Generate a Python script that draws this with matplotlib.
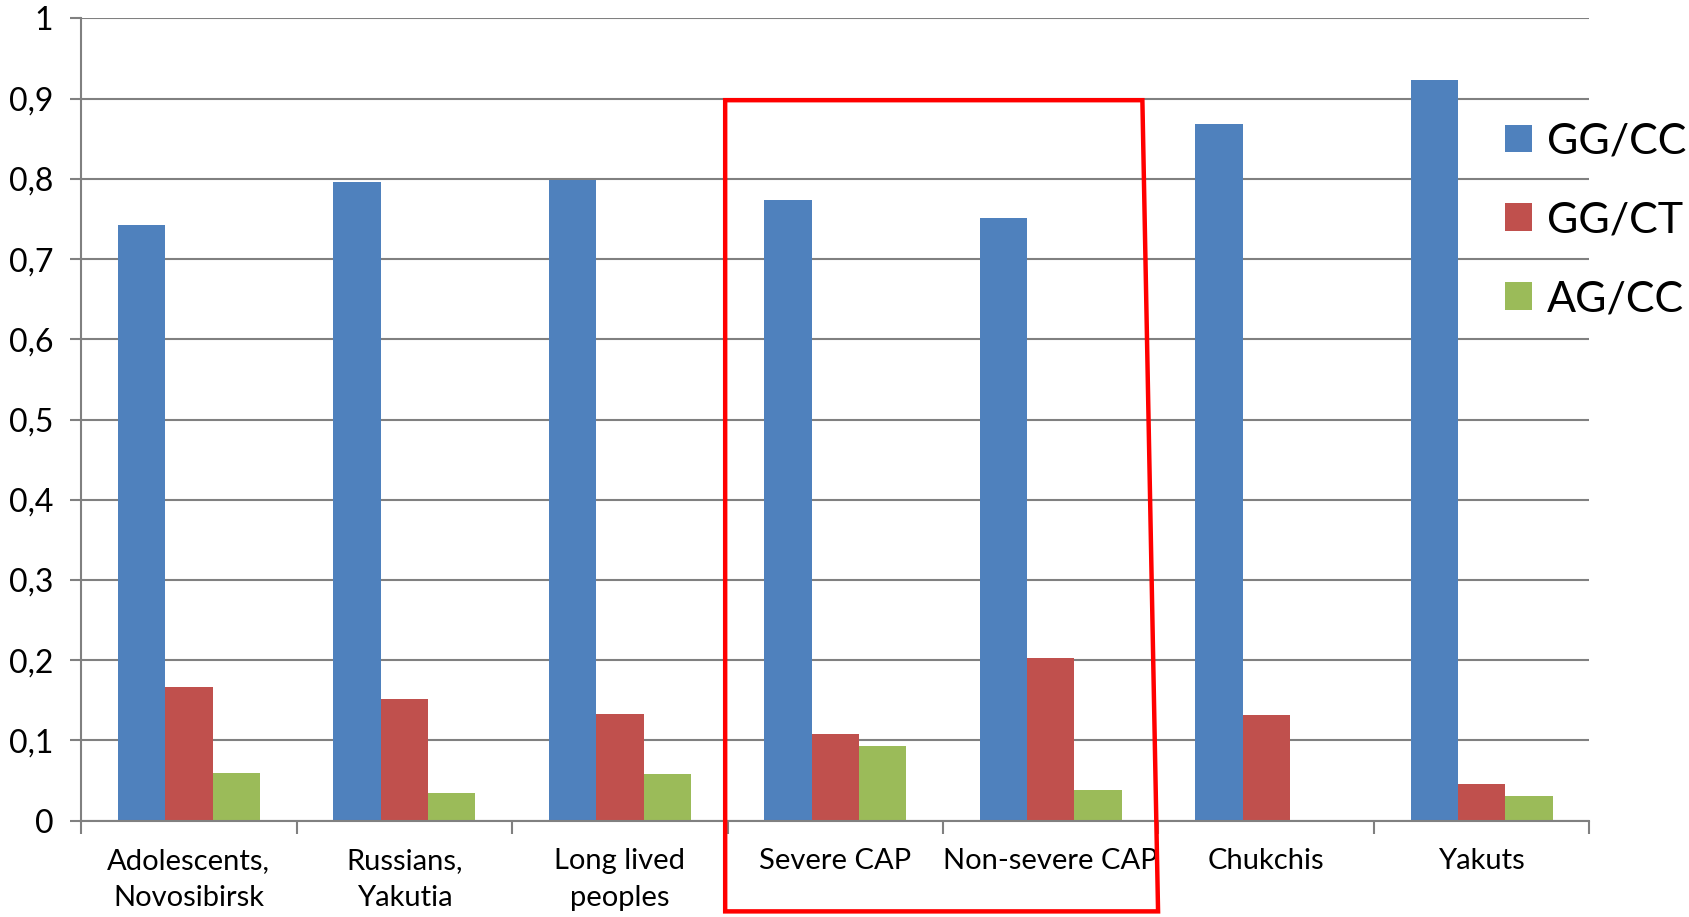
import matplotlib.pyplot as plt
import numpy as np
from matplotlib.patches import Polygon

plt.rcParams['font.family'] = ['Lato', 'DejaVu Sans']

# categories and genotype frequencies
categories = ["Adolescents,\nNovosibirsk", "Russians,\nYakutia", "Long lived\npeoples",
              "Severe CAP", "Non-severe CAP", "Chukchis", "Yakuts"]
gg_cc = [0.742, 0.796, 0.798, 0.774, 0.751, 0.868, 0.923]
gg_ct = [0.167, 0.152, 0.133, 0.108, 0.203, 0.132, 0.046]
ag_cc = [0.060, 0.035, 0.058, 0.093, 0.038, 0.0, 0.031]
series_names = ["GG/CC", "GG/CT", "AG/CC"]
colors = ["#4F81BD", "#C0504D", "#9BBB59"]
yticks = [0, 0.1, 0.2, 0.3, 0.4, 0.5, 0.6, 0.7, 0.8, 0.9, 1]

fig = plt.figure(figsize=(16.9, 9.17), dpi=100)
ax = fig.add_axes([0.048, 0.105, 0.8925, 0.875])

x = np.arange(len(categories))
w = 0.22
for i, (vals, name) in enumerate(zip([gg_cc, gg_ct, ag_cc], series_names)):
    ax.bar(x + (i - 1) * w, vals, width=w, color=colors[i], label=name, zorder=2)

ax.set_xlim(-0.5, len(categories) - 0.5)
ax.set_ylim(0, 1)
ax.set_yticks(yticks)
ax.set_yticklabels([("%g" % v).replace(".", ",") for v in yticks], fontsize=23)
ax.yaxis.grid(True, color="#808080", linewidth=1.5, zorder=0)

# category labels centred, ticks on category boundaries
ax.set_xticks(x)
ax.set_xticklabels(categories, fontsize=21, linespacing=1.5)
ax.tick_params(axis="x", length=0, pad=20)
ax.set_xticks(np.arange(-0.5, len(categories)), minor=True)
ax.tick_params(axis="x", which="minor", length=9, width=1.5, color="#808080")
ax.tick_params(axis="y", length=8, width=1.5, color="#808080", pad=12)

for s in ["top", "right"]:
    ax.spines[s].set_visible(False)
for s in ["left", "bottom"]:
    ax.spines[s].set_color("#808080")
    ax.spines[s].set_linewidth(1.5)

ax.legend(loc="upper left", bbox_to_anchor=(0.8805, 0.885), bbox_transform=fig.transFigure,
          frameon=False, fontsize=31, handlelength=0.62, handleheight=0.62,
          handletextpad=0.35, labelspacing=0.95, borderaxespad=0)

# red highlight around the CAP groups
frame = Polygon([(0.427, 0.898), (0.7036, 0.898), (0.714, -0.113), (0.427, -0.113)],
                closed=True, fill=False, edgecolor="red", linewidth=3.2,
                transform=ax.transAxes, clip_on=False, zorder=5)
ax.add_patch(frame)

fig.savefig("out.png", dpi=100)
